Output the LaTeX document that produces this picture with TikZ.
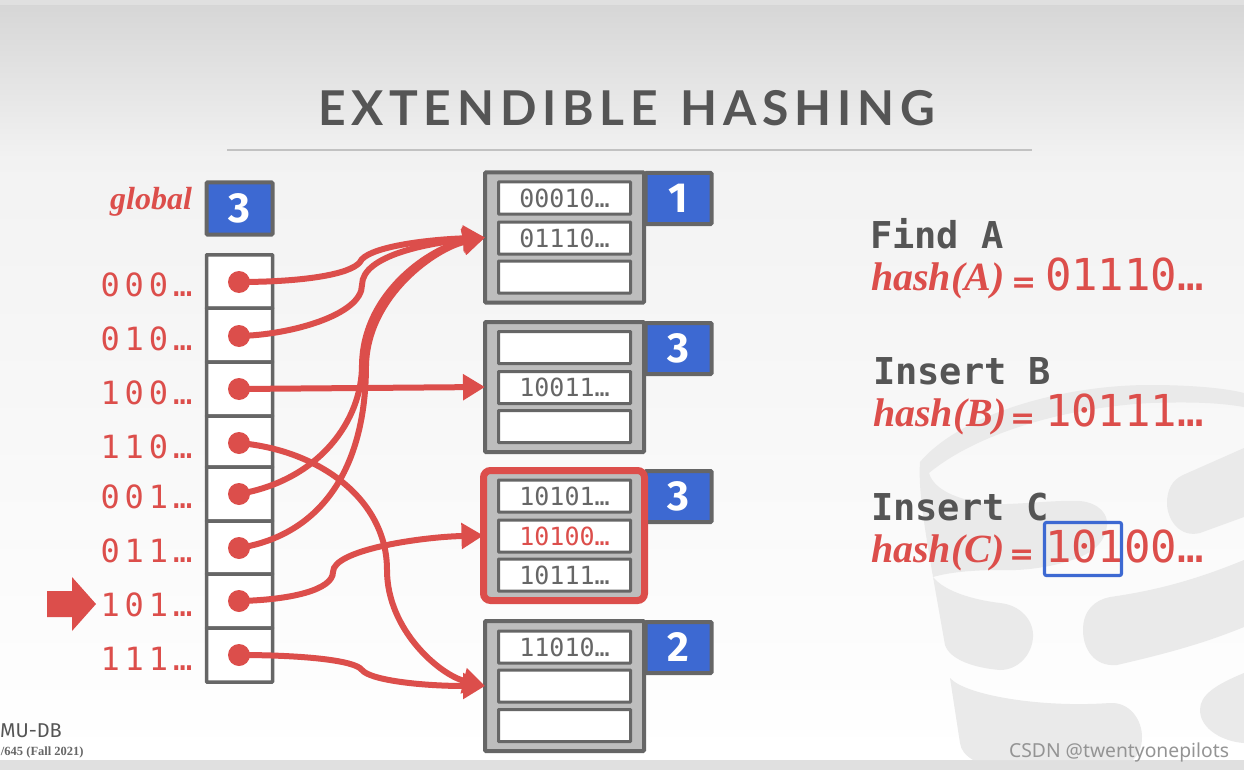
\documentclass[tikz,border=0pt]{standalone}
\usepackage{fontspec}
\usetikzlibrary{arrows.meta}
\setmainfont{Liberation Serif}
\newfontfamily\monof{DejaVu Sans Mono}
\newfontfamily\monoL{DejaVu Sans Mono}[LetterSpace=15.5]
\newfontfamily\titlef{Lato}[LetterSpace=12,WordSpace=1.3]
\newfontfamily\numf{Fira Sans}
\newfontfamily\csdnf{Noto Sans}
\newfontfamily\eqf{DejaVu Sans}
\newcommand{\fsz}[1]{\fontsize{#1}{#1}\selectfont}
\newcommand{\slt}[1]{\raisebox{-2pt}{#1}}
\newcommand{\tagn}[1]{\raisebox{-1.5pt}{#1}}
\definecolor{cred}{HTML}{DC4E4B}
\definecolor{cgray}{HTML}{666666}
\definecolor{cdark}{HTML}{555555}
\definecolor{cblue}{HTML}{3D69D2}
\definecolor{cfill}{HTML}{BDBDBD}
\definecolor{cmark}{HTML}{EAEAEA}
\tikzset{
  x=1pt,y=-1pt,
  every node/.style={inner sep=0pt,outer sep=0pt},
  cellbox/.style={draw=cgray,line width=3.5pt,fill=white,minimum width=66pt,rounded corners=0.5pt},
  tagbox/.style={draw=cgray,line width=4pt,fill=cblue,text=white,minimum width=66pt,minimum height=51pt,font=\numf\bfseries\fsz{42},rounded corners=1pt},
  bucketbox/.style={draw=cgray,line width=4pt,fill=cfill,minimum width=159pt,minimum height=130pt,rounded corners=1pt},
  redbucket/.style={draw=cred,line width=7pt,fill=cfill,minimum width=161pt,minimum height=130pt,rounded corners=7pt},
  slotbox/.style={draw=cgray,line width=3pt,fill=white,minimum width=132pt,minimum height=32pt,font=\monof\fsz{25},text=cgray,rounded corners=0.5pt},
  dotmark/.style={circle,fill=cred,minimum size=22pt},
  link/.style={draw=cred,line width=6pt,-{Triangle[length=22pt,width=25pt]}},
  addr/.style={anchor=base west,text=cred,font=\monoL\fsz{32}},
  hashname/.style={anchor=base west,text=cred,font=\rmfamily\bfseries\itshape\fsz{40}},
  hasheq/.style={anchor=base west,text=cred,font=\eqf\bfseries\fsz{30}},
  hashval/.style={anchor=base west,text=cred,font=\monof\fsz{44}},
  cmdtext/.style={anchor=base west,text=cdark,font=\monof\bfseries\fsz{37}},
}
\begin{document}
\begin{tikzpicture}
\useasboundingbox (0,0) rectangle (1244,770);
% background
\fill[top color=black!16,bottom color=black!5] (0,4) rectangle (1244,160);
\fill[top color=black!5,bottom color=white] (0,160) rectangle (1244,760);
\fill[black!12] (0,0) rectangle (1244,5);
\fill[black!12] (0,760) rectangle (1244,770);
% database watermark
\fill[cmark] (933,577) .. controls (925,530) and (918,490) .. (920,462)
  .. controls (960,415) and (1060,385) .. (1150,385)
  .. controls (1190,385) and (1225,388) .. (1244,393) -- (1244,407)
  .. controls (1215,402) and (1185,402) .. (1150,403)
  .. controls (1060,408) and (975,435) .. (929,473)
  .. controls (935,495) and (975,505) .. (1007,504)
  .. controls (1035,503) and (1060,500) .. (1080,501)
  .. controls (1100,503) and (1108,515) .. (1107,525)
  .. controls (1106,540) and (1095,552) .. (1075,559)
  .. controls (1050,568) and (1020,571) .. (1000,570)
  .. controls (975,570) and (950,572) .. (933,577) -- cycle;
\fill[cmark] (933,577) .. controls (945,592) and (975,600) .. (1000,603)
  .. controls (1020,605) and (1034,620) .. (1033,637)
  .. controls (1032,655) and (1018,670) .. (1000,670)
  .. controls (975,668) and (950,660) .. (945,645) -- cycle;
\fill[cmark] (950,678) .. controls (965,695) and (1040,708) .. (1110,703)
  .. controls (1130,702) and (1142,720) .. (1142,737)
  .. controls (1142,748) and (1138,755) .. (1133,760) -- (973,760)
  .. controls (965,755) and (961,750) .. (960,743) -- cycle;
\fill[cmark] (1244,448) -- (1244,517) -- (1200,533)
  .. controls (1180,538) and (1167,520) .. (1167,503)
  .. controls (1167,490) and (1172,480) .. (1183,475) -- cycle;
\fill[cmark] (1244,560) -- (1244,627) .. controls (1200,645) and (1160,655) .. (1117,665)
  .. controls (1095,667) and (1083,650) .. (1083,630)
  .. controls (1083,610) and (1095,600) .. (1110,597)
  .. controls (1160,590) and (1200,578) .. (1244,560) -- cycle;
\fill[cmark] (1244,673) -- (1244,743) .. controls (1225,742) and (1200,730) .. (1200,710)
  .. controls (1200,695) and (1215,685) .. (1244,673) -- cycle;
% title
\node[anchor=base,text=cdark,font=\titlef\bfseries\fsz{48}] (title) at (626.5,126) {EXTENDIBLE HASHING};
\coordinate (ruleL) at (227,150);
\coordinate (ruleR) at (1032,150);
\draw[black!24,line width=2.5pt] (ruleL) -- (ruleR);
% global
\node[anchor=base east,text=cred,font=\rmfamily\bfseries\itshape\fsz{32}] (globaltxt) at (192,210) {global};
\node[tagbox,minimum width=66pt,minimum height=52pt] (gdepth) at (239.5,208.5) {\tagn{3}};
% directory
\node[cellbox,minimum height=53.5pt] (c1) at (239.5,281.5) {};
\node[cellbox,minimum height=54pt] (c2) at (239.5,335) {};
\node[cellbox,minimum height=54pt] (c3) at (239.5,389) {};
\node[cellbox,minimum height=51pt] (c4) at (239.5,441.5) {};
\node[cellbox,minimum height=54pt] (c5) at (239.5,494) {};
\node[cellbox,minimum height=53pt] (c6) at (239.5,547.5) {};
\node[cellbox,minimum height=54pt] (c7) at (239.5,601) {};
\node[cellbox,minimum height=54pt] (c8) at (239.5,655) {};
% address labels
\node[addr] (a1) at (100.5,296) {000…};
\node[addr] (a2) at (100.5,350) {010…};
\node[addr] (a3) at (100.5,404) {100…};
\node[addr] (a4) at (100.5,458) {110…};
\node[addr] (a5) at (100.5,508) {001…};
\node[addr] (a6) at (100.5,562) {011…};
\node[addr] (a7) at (100.5,616) {101…};
\node[addr] (a8) at (100.5,670) {111…};
% pointer arrow
\fill[cred] (47,591) -- (72,591) -- (72,577) -- (96,604) -- (72,631) -- (72,617) -- (47,617) -- cycle;
% buckets
\node[tagbox] (t1) at (678.5,198.5) {\tagn{1}};
\node[tagbox] (t2) at (678.5,348.5) {\tagn{3}};
\node[tagbox] (t3) at (678.5,496.5) {\tagn{3}};
\node[tagbox] (t4) at (678.5,647.5) {\tagn{2}};
\node[bucketbox] (b1) at (564.5,237.5) {};
\node[bucketbox] (b2) at (564.5,387) {};
\node[redbucket] (b3) at (564,535.5) {};
\node[bucketbox] (b4) at (564.5,686) {};
\node[slotbox] (s11) at (564.5,198) {\slt{00010…}};
\node[slotbox] (s12) at (564.5,238) {\slt{01110…}};
\node[slotbox] (s13) at (564.5,277) {};
\node[slotbox] (s21) at (564.5,347.5) {};
\node[slotbox] (s22) at (564.5,387.5) {\slt{10011…}};
\node[slotbox] (s23) at (564.5,426.5) {};
\node[slotbox] (s31) at (564.5,496) {\slt{10101…}};
\node[slotbox,text=cred] (s32) at (564.5,536) {\slt{10100…}};
\node[slotbox] (s33) at (564.5,575) {\slt{10111…}};
\node[slotbox] (s41) at (564.5,647) {\slt{11010…}};
\node[slotbox] (s42) at (564.5,686) {};
\node[slotbox] (s43) at (564.5,725.5) {};
% dots
\node[dotmark] (d1) at (239,282) {};
\node[dotmark] (d2) at (239,336) {};
\node[dotmark] (d3) at (239,389) {};
\node[dotmark] (d4) at (239,443) {};
\node[dotmark] (d5) at (239,494) {};
\node[dotmark] (d6) at (239,548) {};
\node[dotmark] (d7) at (239,601) {};
\node[dotmark] (d8) at (239,655) {};
% connectors
\draw[link] (d1.center) .. controls (300,282) and (350,275) .. (360,262) .. controls (366,248) and (420,240) .. (b1.west);
\draw[link] (d2.center) .. controls (290,335) and (362,315) .. (362,285) .. controls (362,255) and (430,243) .. (b1.west);
\draw[link] (d3.center) -- (b2.west);
\draw[link] (d4.center) .. controls (320,450) and (387,500) .. (387,570) .. controls (387,630) and (440,675) .. (b4.west);
\draw[link] (d5.center) .. controls (320,480) and (362,420) .. (362,365) .. controls (363,292) and (432,247) .. (b1.west);
\draw[link] (d6.center) .. controls (320,535) and (366,470) .. (366,365) .. controls (368,295) and (436,248) .. (b1.west);
\draw[link] (d7.center) .. controls (290,600) and (333,590) .. (333,572) .. controls (333,550) and (420,537) .. (b3.west);
\draw[link] (d8.center) .. controls (300,655) and (355,660) .. (362,670) .. controls (370,680) and (420,686) .. (b4.west);
% right text
\node[cmdtext] (cmdA) at (870,248) {Find A};
\node[hashname] (hA) at (871,290) {hash(A)};
\node[hasheq] (eA) at (1011,292) {=};
\node[hashval] (vA) at (1045,290) {01110…};
\node[cmdtext] (cmdB) at (873,384) {Insert B};
\node[hashname] (hB) at (873,426) {hash(B)};
\node[hasheq] (eB) at (1010,428) {=};
\node[hashval] (vB) at (1045,426) {10111…};
\node[cmdtext] (cmdC) at (871,520) {Insert C};
\node[hashname] (hC) at (871,562) {hash(C)};
\node[hasheq] (eC) at (1009,564) {=};
\node[hashval] (vC) at (1045,562) {10100…};
\node[draw=cblue,line width=3.2pt,rounded corners=2pt,minimum width=77pt,minimum height=53pt] (mask) at (1083,549) {};
% footer
\node[anchor=base west,text=cdark,font=\numf\fsz{20}] (cmu) at (0,737) {MU-DB};
\node[anchor=base west,text=cgray,font=\rmfamily\bfseries\fsz{12.5}] (course) at (1,755) {/645 (Fall 2021)};
\node[anchor=base east,text=black!42,font=\csdnf\fsz{19.3}] (csdn) at (1229,757) {CSDN @twentyonepilots};
\end{tikzpicture}
\end{document}
